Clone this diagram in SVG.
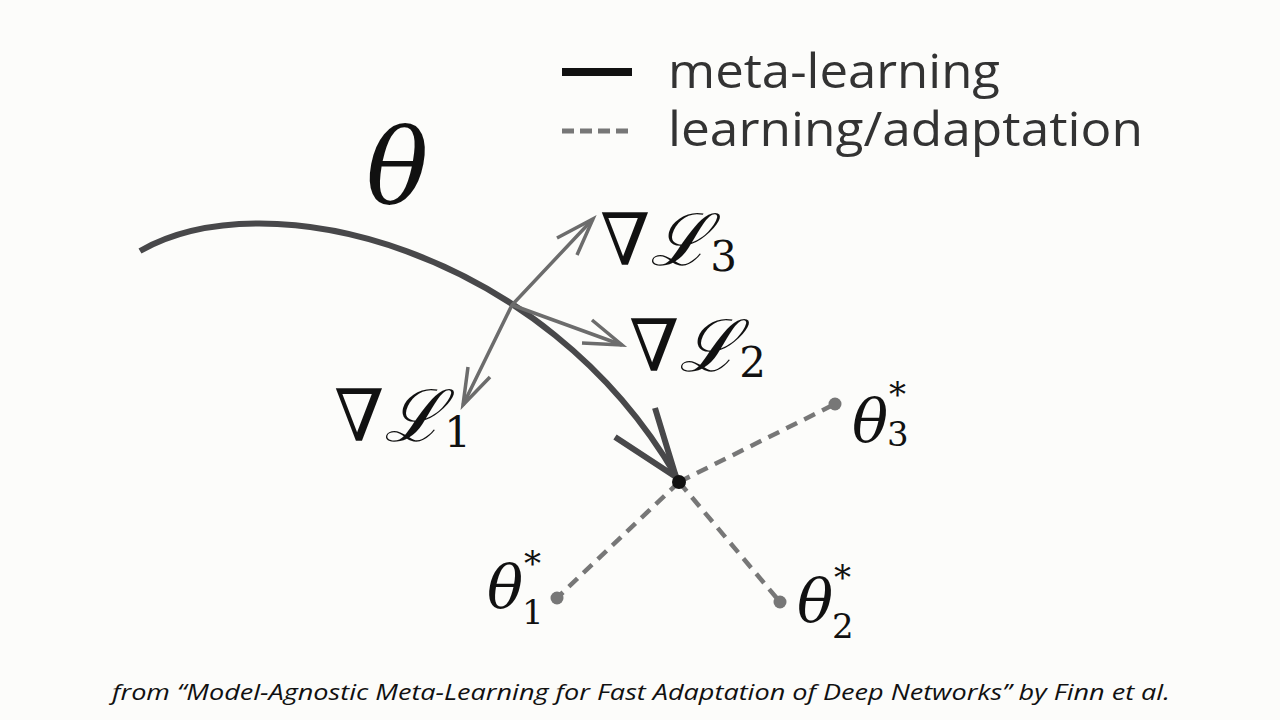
<svg xmlns="http://www.w3.org/2000/svg" width="1280" height="720" viewBox="0 0 1280 720">
<style>
.meta{fill:none;stroke:#48484a;stroke-width:6;stroke-linecap:butt}
.grad{fill:none;stroke:#6c6c6c;stroke-width:3.5}
.dash{fill:none;stroke:#777;stroke-width:4.5;stroke-dasharray:12 8}
.math{font-family:"DejaVu Serif","Liberation Serif",serif;fill:#111}
.legend{font-family:"Open Sans","Noto Sans",sans-serif;font-size:47px;fill:#333}
.cap{font-family:"Open Sans","Noto Sans",sans-serif;font-style:italic;font-size:22px;fill:#111}
</style>
<rect width="1280" height="720" fill="#fcfcfa"/>
<g id="legend">
<line x1="562" y1="72" x2="632" y2="72" stroke="#111" stroke-width="8"/>
<line x1="562" y1="131" x2="632" y2="131" stroke="#777" stroke-width="5" stroke-dasharray="12 6"/>
<text class="legend" x="668" y="88" textLength="332" lengthAdjust="spacingAndGlyphs">meta-learning</text>
<text class="legend" x="668" y="146" textLength="475" lengthAdjust="spacingAndGlyphs">learning/adaptation</text>
</g>
<g id="connectors">
<path class="meta" d="M140,251 C268,178 545,250 676,476"/>
<path class="meta" d="M615,437 L676,477 L655,408" stroke-linejoin="miter"/>
<path class="grad" d="M463,405 L512,305 L593,219"/>
<path class="grad" d="M557,238 L593,219 L577,255"/>
<path class="grad" d="M490,377 L463,405 L468,367"/>
<path class="grad" d="M512,305 L622,345"/>
<path class="grad" d="M592,320 L622,345 L582,343"/>
<line class="dash" x1="679" y1="482" x2="835" y2="404"/>
<line class="dash" x1="679" y1="482" x2="557" y2="598"/>
<line class="dash" x1="679" y1="482" x2="780" y2="602"/>
</g>
<g id="theta">
<text class="math" x="366" y="204" font-size="104" font-style="italic">θ</text>
</g>
<g id="gradL3">
<text class="math" x="600" y="265" font-size="72">∇<tspan font-style="italic" font-family="Liberation Serif, serif">ℒ</tspan><tspan font-size="42" dy="6">3</tspan></text>
</g>
<g id="gradL2">
<text class="math" x="629" y="371" font-size="72">∇<tspan font-style="italic" font-family="Liberation Serif, serif">ℒ</tspan><tspan font-size="42" dy="6">2</tspan></text>
</g>
<g id="gradL1">
<text class="math" x="334" y="441" font-size="72">∇<tspan font-style="italic" font-family="Liberation Serif, serif">ℒ</tspan><tspan font-size="42" dy="6">1</tspan></text>
</g>
<g id="center">
<circle cx="679" cy="482" r="7" fill="#111"/>
</g>
<g id="theta3">
<circle cx="835" cy="404" r="6.5" fill="#777"/>
<text class="math" x="852" y="442" font-size="60" font-style="italic">θ<tspan x="889" y="406" font-size="34" font-style="normal">*</tspan><tspan x="887" y="446" font-size="34" font-style="normal">3</tspan></text>
</g>
<g id="theta1">
<circle cx="557" cy="598" r="6.5" fill="#777"/>
<text class="math" x="487" y="608" font-size="60" font-style="italic">θ<tspan x="524" y="575" font-size="34" font-style="normal">*</tspan><tspan x="522" y="624" font-size="34" font-style="normal">1</tspan></text>
</g>
<g id="theta2">
<circle cx="780" cy="602" r="6.5" fill="#777"/>
<text class="math" x="797" y="622" font-size="60" font-style="italic">θ<tspan x="834" y="589" font-size="34" font-style="normal">*</tspan><tspan x="832" y="638" font-size="34" font-style="normal">2</tspan></text>
</g>
<g id="caption">
<text class="cap" x="112" y="700" textLength="1058" lengthAdjust="spacingAndGlyphs">from “Model-Agnostic Meta-Learning for Fast Adaptation of Deep Networks” by Finn et al.</text>
</g>
</svg>
